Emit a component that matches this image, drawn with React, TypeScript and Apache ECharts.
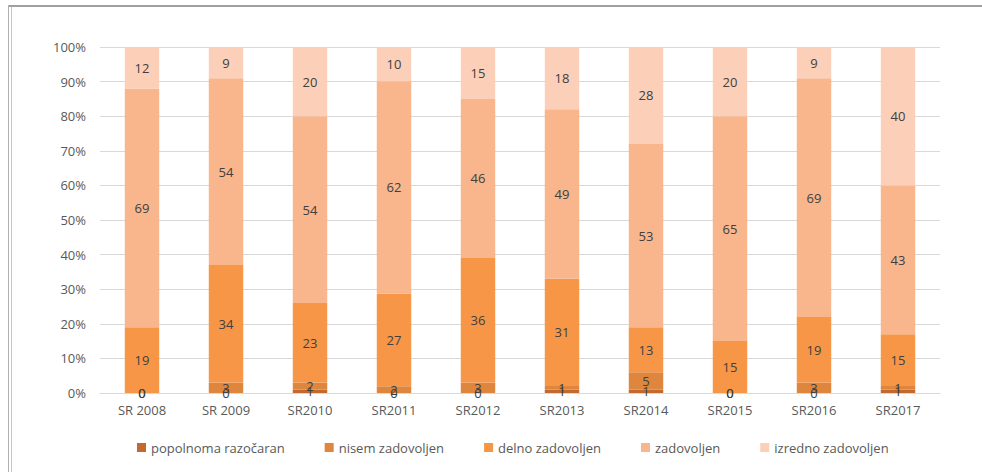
import React, { useEffect, useRef } from "react";
import * as echarts from "echarts";

const categories = ["SR 2008", "SR 2009", "SR2010", "SR2011", "SR2012", "SR2013", "SR2014", "SR2015", "SR2016", "SR2017"];
const seriesNames = ["popolnoma razočaran", "nisem zadovoljen", "delno zadovoljen", "zadovoljen", "izredno zadovoljen"];
const popolnoma = [0, 0, 1, 0, 0, 1, 1, 0, 0, 1];
const nisem = [0, 3, 2, 2, 3, 1, 5, 0, 3, 1];
const delno = [19, 34, 23, 27, 36, 31, 13, 15, 19, 15];
const zadovoljen = [69, 54, 54, 62, 46, 49, 53, 65, 69, 43];
const izredno = [12, 9, 20, 10, 15, 18, 28, 20, 9, 40];
const yTicks = [0, 10, 20, 30, 40, 50, 60, 70, 80, 90, 100];
const colors = ["#C26A2E", "#DE863E", "#F79646", "#F9B58C", "#FCCFB8"];

export default function App() {
  const ref = useRef<HTMLDivElement>(null);
  useEffect(() => {
    if (!ref.current) return;
    const chart = echarts.init(ref.current, null, { renderer: "svg" });
    const raw = [popolnoma, nisem, delno, zadovoljen, izredno];
    const totals = categories.map((_, i) => raw.reduce((s, arr) => s + arr[i], 0));
    const font = "'Open Sans', 'Noto Sans', sans-serif";
    chart.setOption({
      animation: false,
      textStyle: { fontFamily: font },
      graphic: [
        { type: "rect", shape: { x: 8, y: 5, width: 1000, height: 2 }, style: { fill: "#a0a0a0" } },
        { type: "rect", shape: { x: 8, y: 5, width: 1, height: 480 }, style: { fill: "#b0b0b0" } },
        { type: "rect", shape: { x: 11, y: 7, width: 1, height: 480 }, style: { fill: "#c4c4c4" } },
      ],
      grid: { left: 100, right: 42, top: 47, bottom: 79, containLabel: false },
      legend: {
        left: 132,
        top: 436,
        itemWidth: 9,
        itemHeight: 9,
        itemGap: 40,
        icon: "rect",
        textStyle: { color: "#595959", fontSize: 13, fontFamily: font },
        data: seriesNames,
      },
      xAxis: {
        type: "category",
        data: categories,
        axisLine: { lineStyle: { color: "#d9d9d9", width: 1 } },
        axisTick: { show: false },
        axisLabel: { color: "#595959", fontSize: 13, margin: 10 },
      },
      yAxis: {
        type: "value",
        min: 0,
        max: 100,
        interval: 10,
        axisLabel: {
          color: "#595959",
          fontSize: 13,
          margin: 14,
          formatter: (v: number) => (yTicks.includes(v) ? v + "%" : ""),
        },
        splitLine: { lineStyle: { color: "#d9d9d9", width: 1 } },
        axisLine: { show: false },
        axisTick: { show: false },
      },
      series: raw.map((arr, si) => ({
        name: seriesNames[si],
        type: "bar",
        stack: "total",
        barWidth: "41%",
        itemStyle: { color: colors[si] },
        label: {
          show: true,
          position: "inside",
          color: "#404040",
          fontSize: 13,
          formatter: (p: any) => String(arr[p.dataIndex]),
        },
        data: arr.map((v, i) => (v / totals[i]) * 100),
      })),
    });
    return () => chart.dispose();
  }, []);
  return <div ref={ref} style={{ width: 982, height: 472, position: "absolute", left: 0, top: 0, background: "#fff", overflow: "hidden" }} />;
}
